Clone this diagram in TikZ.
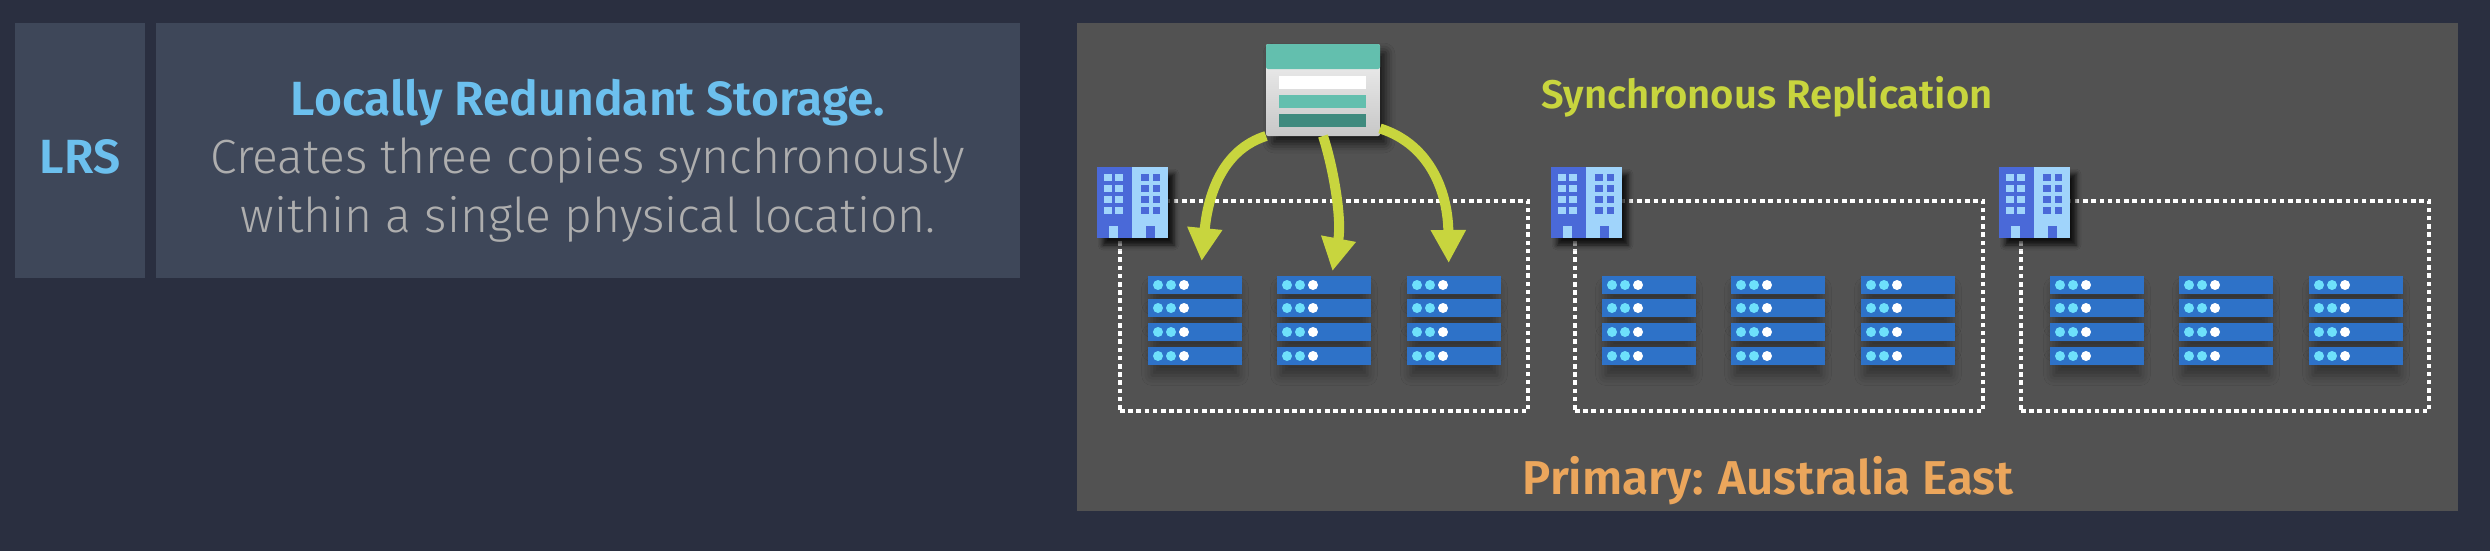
\documentclass[tikz,border=0pt]{standalone}
\usepackage{fontspec}
\setmainfont{Fira Sans}
\newfontfamily\firalight{Fira Sans Light}
\newfontfamily\firasemi{Fira Sans SemiBold}
\usetikzlibrary{arrows.meta,shadows.blur}
\definecolor{pagebg}{HTML}{2A2F40}
\definecolor{cardbg}{HTML}{3E4759}
\definecolor{regionbg}{HTML}{525252}
\definecolor{skytext}{HTML}{6CC0EE}
\definecolor{greytext}{HTML}{AEAEAE}
\definecolor{synclime}{HTML}{C8D53E}
\definecolor{primorange}{HTML}{EBA65C}
\definecolor{rackblue}{HTML}{2E72C8}
\definecolor{ledcyan}{HTML}{6EE0FB}
\definecolor{blddark}{HTML}{4A69D8}
\definecolor{bldlight}{HTML}{A0D4FB}
\definecolor{storeteal}{HTML}{63BFAE}
\definecolor{storedark}{HTML}{3F8A7E}
\tikzset{
  panel/.style={inner sep=0pt,outer sep=0pt,anchor=north west},
  site/.style={panel,draw=white,line width=4.5pt,dash pattern=on 4.5pt off 3.7pt,minimum width=408pt,minimum height=210pt},
  rack/.style={panel,fill=rackblue,minimum width=94pt,minimum height=18pt,
    blur shadow={shadow xshift=0pt,shadow yshift=-12pt,shadow scale=0.92,shadow blur radius=11pt,shadow opacity=38}},
  replarrow/.style={-{Triangle[width=33pt,length=33pt]},synclime,line width=10pt},
  tallabel/.style={anchor=base,inner sep=0pt}
}
\begin{document}
\begin{tikzpicture}[x=1pt,y=-1pt]
    \useasboundingbox(0,0)rectangle(2490,550);
	\node[panel,fill=pagebg,minimum width=2500pt,minimum height=560pt](page)at(-5,-5){};
	\node[panel,fill=cardbg,minimum width=130pt,minimum height=255pt](lrscard)at(15,23){};
	\node[panel,fill=cardbg,minimum width=864pt,minimum height=255pt](textcard)at(156,23){};
	\node[tallabel,text=skytext,font=\firasemi\fontsize{48}{48}\selectfont](lrs)at(80,173){LRS};
	\node[tallabel,text=skytext,font=\firasemi\fontsize{48}{48}\selectfont](title)at(588,115){Locally Redundant Storage.};
	\node[tallabel,text=greytext,font=\firalight\fontsize{48}{48}\selectfont](line1)at(588,173){Creates three copies synchronously};
	\node[tallabel,text=greytext,font=\firalight\fontsize{48}{48}\selectfont](line2)at(588,232){within a single physical location.};
	\node[panel,fill=regionbg,minimum width=1381pt,minimum height=488pt](region)at(1077,23){};
	\node[tallabel,text=synclime,font=\firasemi\fontsize{40}{40}\selectfont](sync)at(1767,108){Synchronous Replication};
	\node[tallabel,text=primorange,font=\firasemi\fontsize{47.5}{48}\selectfont](primary)at(1768,494){Primary: Australia East};
	% sites with their racks
	\foreach \s/\x in{1/1120,2/1575,3/2021}
	\node[site](site\s)at(\x,201){};
	\foreach \s/\x in{1/1148,2/1602,3/2050}
	{\foreach \c/\dx in{a/0,b/129,c/259}
		{\foreach \r/\y in{1/276,2/299,3/323,4/347}
			{\node[rack](rack\s\c\r)at(\x+\dx,\y){};
			\fill[ledcyan](\x+\dx+10,\y+9)circle(5);
			\fill[ledcyan](\x+\dx+23,\y+9)circle(5);
			\fill[white](\x+\dx+36,\y+9)circle(5);
			}
		}
	}
	% buildings
	\foreach \s/\x in{1/1097,2/1551,3/1999}
	{\node[panel,fill=blddark,minimum width=71pt,minimum height=71pt,
		blur shadow={shadow xshift=6pt,shadow yshift=-7pt,shadow blur radius=5pt,shadow opacity=80}](bld\s)at(\x,167){};
	\fill[bldlight](\x+35,167)rectangle(\x+71,238);
	\foreach \y in{174,185,196,207}
		{\fill[bldlight](\x+7,\y)rectangle(\x+15,\y+7);
		\fill[bldlight](\x+18,\y)rectangle(\x+26,\y+7);
		\fill[blddark](\x+44,\y)rectangle(\x+52,\y+7);
		\fill[blddark](\x+56,\y)rectangle(\x+63,\y+7);
		}
	\fill[bldlight](\x+12,226)rectangle(\x+21,238);
	\fill[blddark](\x+49,226)rectangle(\x+58,238);
	}
	% storage account
	\node[panel,minimum width=114pt,minimum height=92pt,rounded corners=2pt,top color=white!95!black,bottom color=white!78!black,
		blur shadow={shadow xshift=6pt,shadow yshift=-8pt,shadow blur radius=9pt,shadow opacity=70}](store)at(1266,44){};
	\fill[storeteal,rounded corners=2pt](1266,44)rectangle(1380,69);
	\node[panel,fill=white,minimum width=87pt,minimum height=13pt](barwhite)at(1279,76){};
	\node[panel,fill=storeteal,minimum width=87pt,minimum height=13pt](barteal)at(1279,95){};
	\node[panel,fill=storedark,minimum width=87pt,minimum height=13pt](bardark)at(1279,114){};
	% replication arrows
	\draw[replarrow,shorten >=15pt](store.south west)..controls(1222,150)and(1208,195)..(rack1a1.60);
	\draw[replarrow,shorten >=5pt](store.south)..controls(1334,170)and(1342,220)..(rack1b1.50);
	\draw[replarrow,shorten >=13pt](store.-34)..controls(1432,145)and(1448,195)..(rack1c1.120);
\end{tikzpicture}
\end{document}
